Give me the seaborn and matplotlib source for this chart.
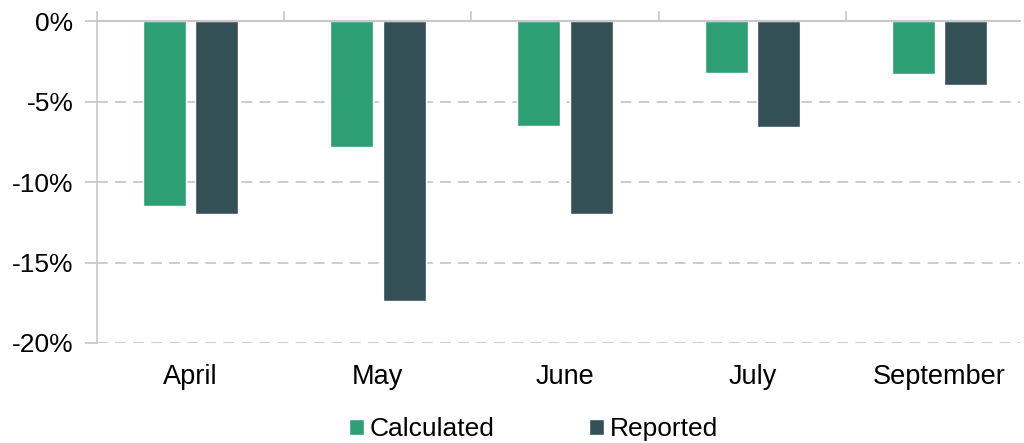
import matplotlib
matplotlib.use("Agg")
import matplotlib.pyplot as plt
import seaborn as sns
import pandas as pd
import numpy as np
from matplotlib.ticker import FuncFormatter, FixedLocator

months = ["April", "May", "June", "July", "September"]
calculated = [-11.5, -7.8, -6.5, -3.2, -3.3]
reported = [-12.0, -17.4, -12.0, -6.6, -4.0]
series_names = ["Calculated", "Reported"]
colors = ["#2e9e74", "#325056"]

df = pd.DataFrame({
    "month": months * 2,
    "value": calculated + reported,
    "series": [series_names[0]] * len(months) + [series_names[1]] * len(months),
})

sns.set_theme(style="white")
plt.rcParams["font.family"] = ["Liberation Sans", "DejaVu Sans"]

FS = 19
fig = plt.figure(figsize=(10.24, 4.43), dpi=100)
ax = fig.add_axes([97 / 1024, 1 - 343 / 443, (1020 - 97) / 1024, (343 - 21) / 443])

sns.barplot(data=df, x="month", y="value", hue="series", order=months,
            hue_order=series_names, palette=colors, width=0.56, gap=0.18,
            saturation=1, ax=ax, legend=True)

ax.set_ylim(-20, 0)
ax.set_xlim(-0.5, 4.43)
ax.set_yticks([0, -5, -10, -15, -20])
ax.yaxis.set_major_formatter(FuncFormatter(lambda v, p: f"{int(round(v))}%"))
ax.yaxis.grid(True, color="#c8c8c8", linestyle=(0, (6, 4)), linewidth=1.3)
ax.set_axisbelow(True)

for s in ["right", "bottom"]:
    ax.spines[s].set_visible(False)
ax.spines["left"].set_color("#c8c8c8")
ax.spines["top"].set_color("#c8c8c8")
ax.spines["left"].set_linewidth(1.2)
ax.spines["top"].set_linewidth(1.5)

ax.xaxis.set_minor_locator(FixedLocator(np.arange(-0.5, 5, 1.0)))
ax.tick_params(axis="x", which="minor", top=True, bottom=False, length=7,
               direction="out", color="#c8c8c8", width=1.2)
ax.tick_params(axis="x", which="major", length=0, pad=15, labelsize=19.5, colors="#000000")
ax.tick_params(axis="y", which="major", left=True, length=9, color="#c8c8c8",
               labelsize=FS, pad=8, colors="#000000")

ax.set_xlabel("")
ax.set_ylabel("")

leg = ax.legend(loc="lower center", bbox_to_anchor=(0.473, -0.338), ncol=2,
                frameon=False, fontsize=FS, handlelength=0.57, handleheight=0.57,
                handletextpad=0.2, columnspacing=3.6, borderaxespad=0)
for t in leg.get_texts():
    t.set_color("#000000")

fig.savefig("out.png", dpi=100)
